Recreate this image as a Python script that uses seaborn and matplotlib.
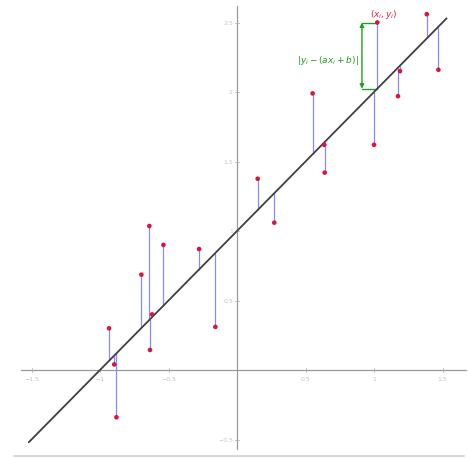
import matplotlib
matplotlib.use("Agg")
import matplotlib.pyplot as plt
import seaborn as sns
import numpy as np
import pandas as pd

# Observed points
x_obs = [-0.934, -0.896, -0.880, -0.698, -0.640, -0.635, -0.620, -0.537, -0.277, -0.158,
         0.151, 0.272, 0.552, 0.637, 0.640, 1.000, 1.024, 1.175, 1.190, 1.385, 1.470]
y_obs = [0.30, 0.04, -0.34, 0.686, 1.036, 0.144, 0.40, 0.90, 0.87, 0.31,
         1.376, 1.06, 1.99, 1.62, 1.42, 1.62, 2.50, 1.97, 2.15, 2.56, 2.16]

# Regression line y = a*x + b
slope_a = 1.0
intercept_b = 1.0
line_x = [-1.52, 1.53]

x_ticks = [-1.5, -1, -0.5, 0.5, 1, 1.5]
y_ticks = [-0.5, 0.5, 1, 1.5, 2, 2.5]

# highlighted point index
hi = 16

df = pd.DataFrame({"x": x_obs, "y": y_obs})
df["fit"] = slope_a * df["x"] + intercept_b
line_df = pd.DataFrame({"x": line_x, "y": [slope_a * v + intercept_b for v in line_x]})

sns.set_style("white")
fig = plt.figure(figsize=(4.68, 4.60), dpi=100)
ax = fig.add_axes([0, 0, 1, 1])
ax.set_xlim(-237 / 137, (468 - 237) / 137)
ax.set_ylim(-(460 - 371) / 139, 371 / 139)
for s in ax.spines.values():
    s.set_visible(False)
ax.set_xticks([])
ax.set_yticks([])

# coordinate axes
ax.plot([-1.58, 1.67], [0, 0], color="#9a9a9a", lw=0.9, zorder=1)
ax.plot([0, 0], [-0.57, 2.62], color="#9a9a9a", lw=0.9, zorder=1)
for t in x_ticks:
    ax.plot([t, t], [-0.012, 0.012], color="#b0b0b0", lw=0.6)
    ax.text(t, -0.04, str(t).replace("-", "\u2212"), ha="center", va="top",
            fontsize=4.5, color="#c4c4c4")
for t in y_ticks:
    ax.plot([-0.012, 0.012], [t, t], color="#b0b0b0", lw=0.6)
    ax.text(-0.03, t, str(t).replace("-", "\u2212"), ha="right", va="center",
            fontsize=4.5, color="#c4c4c4")
# bottom frame edge
ax.plot([-1.63, 1.66], [-0.62, -0.62], color="#d8d8d8", lw=1.5, clip_on=False)

# residual segments
ax.vlines(df["x"], df["fit"], df["y"], color="#8888ff", lw=0.9, zorder=2)

# regression line
sns.lineplot(data=line_df, x="x", y="y", color="#404040", lw=1.3, ax=ax, zorder=3)

# points
sns.scatterplot(data=df, x="x", y="y", color="#dc143c", s=11, edgecolor="none",
                ax=ax, zorder=4)

# residual annotation
xi, yi = x_obs[hi], y_obs[hi]
fi = slope_a * xi + intercept_b
bx = 0.912
green = "#20a020"
ax.plot([bx, xi], [yi, yi], color=green, lw=1.0, zorder=2)
ax.plot([bx, xi], [fi, fi], color=green, lw=1.0, zorder=2)
ax.annotate("", xy=(bx, yi), xytext=(bx, fi),
            arrowprops=dict(arrowstyle="<|-|>", color=green, lw=1.0,
                            mutation_scale=6, shrinkA=0, shrinkB=0))
ax.text(bx - 0.02, (yi + fi) / 2 - 0.03, r"$|y_i - (ax_i + b)|$", color=green,
        fontsize=6.5, ha="right", va="center")
ax.text(xi + 0.05, yi + 0.018, r"$(x_i, y_i)$", color="#e0203c",
        fontsize=6.5, ha="center", va="bottom")

ax.set_xlabel("")
ax.set_ylabel("")
fig.savefig("out.png", dpi=100)
